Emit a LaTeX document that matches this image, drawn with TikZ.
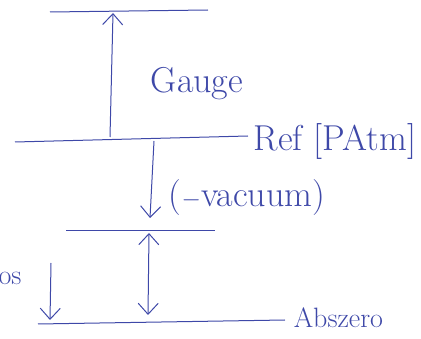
\documentclass[tikz,border=0pt]{standalone}
\usepackage{tikz}
\usetikzlibrary{arrows.meta}
\definecolor{ink}{RGB}{62,72,168}

\begin{document}
\begin{tikzpicture}[x=1pt,y=-1pt,>={Straight Barb[length=11pt,width=20pt]},
  line width=1pt, draw=ink, text=ink,
  big/.style={font=\fontsize{36}{38}\selectfont},
  small/.style={font=\fontsize{28}{30}\selectfont}]
\useasboundingbox (0,0) rectangle (421,339);
% pressure levels
\coordinate (T1) at (50,12);  \coordinate (T2) at (208,10);
\coordinate (R1) at (15,142); \coordinate (R2) at (248,136);
\coordinate (V1) at (66,231); \coordinate (V2) at (215,231);
\coordinate (Z1) at (38,324); \coordinate (Z2) at (285,320);
\draw (T1) -- (T2);
\draw (R1) -- (R2);
\draw (V1) -- (V2);
\draw (Z1) -- (Z2);

\node[big] (G) at (197,84) {Gauge};
\node[big,anchor=west] (R) at (250,142) {Ref [PAtm]};
\node[big] (V) at (247,198) {($-$vacuum)};
\node[small,anchor=west] (Z) at (290,318) {Abszero};
\node[small] (A) at (10,278) {os};

% arrows
\coordinate (g0) at (110,137); \coordinate (g1) at (113,13);
\coordinate (v0) at (154,141); \coordinate (v1) at (150,218);
\coordinate (d0) at (149,233); \coordinate (d1) at (148,315);
\coordinate (a0) at (51,263);  \coordinate (a1) at (50,320);
\draw[->] (g0) -- (g1);
\draw[->] (v0) -- (v1);
\draw[<->] (d0) -- (d1);
\draw[->] (a0) -- (a1);
\end{tikzpicture}
\end{document}
